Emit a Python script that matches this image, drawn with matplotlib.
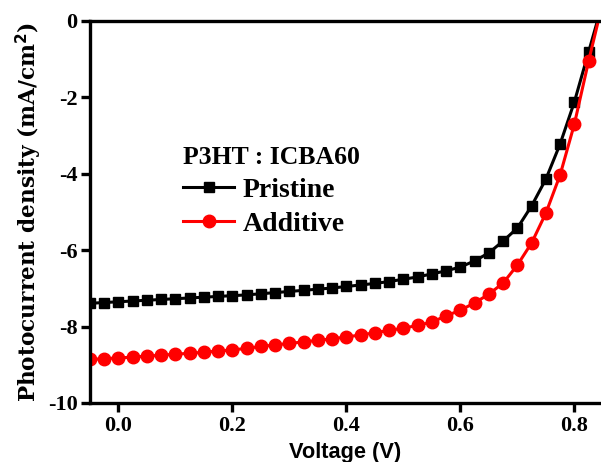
import matplotlib
matplotlib.use('Agg')
import matplotlib.pyplot as plt

plt.rcParams['axes.unicode_minus'] = False

# Voltage sweep (V)
voltage = [-0.05, -0.025, 0.0, 0.025, 0.05, 0.075, 0.1, 0.125, 0.15, 0.175,
           0.2, 0.225, 0.25, 0.275, 0.3, 0.325, 0.35, 0.375, 0.4, 0.425,
           0.45, 0.475, 0.5, 0.525, 0.55, 0.575, 0.6, 0.625, 0.65, 0.675,
           0.7, 0.725, 0.75, 0.775, 0.8, 0.825, 0.85]

# Photocurrent density (mA/cm2)
pristine = [-7.39, -7.37, -7.35, -7.33, -7.31, -7.29, -7.27, -7.25, -7.23, -7.21,
            -7.19, -7.17, -7.14, -7.11, -7.08, -7.05, -7.02, -6.99, -6.95, -6.91,
            -6.87, -6.82, -6.76, -6.70, -6.62, -6.54, -6.44, -6.28, -6.07, -5.76,
            -5.42, -4.84, -4.14, -3.22, -2.12, -0.81, 0.5]
additive = [-8.86, -8.84, -8.82, -8.80, -8.77, -8.75, -8.72, -8.70, -8.67, -8.64,
            -8.61, -8.57, -8.52, -8.48, -8.44, -8.40, -8.36, -8.32, -8.27, -8.22,
            -8.16, -8.10, -8.04, -7.97, -7.88, -7.72, -7.57, -7.38, -7.15, -6.86,
            -6.39, -5.81, -5.03, -4.03, -2.70, -1.05, 0.5]

xticks = [0.0, 0.2, 0.4, 0.6, 0.8]
yticks = [0, -2, -4, -6, -8, -10]

serif = 'Liberation Serif'

fig = plt.figure(figsize=(6.01, 4.62), dpi=100)
ax = fig.add_axes([90 / 601, 59 / 462, 510 / 601, 382 / 462])

ax.plot(voltage, pristine, color='black', lw=2.2, marker='s', ms=7,
        label='Pristine')
ax.plot(voltage, additive, color='red', lw=2.2, marker='o', ms=9,
        label='Additive')

ax.set_xlim(-0.05, 0.845)
ax.set_ylim(-10, 0)
ax.set_xticks(xticks)
ax.set_xticklabels(['%.1f' % v for v in xticks])
ax.set_yticks(yticks)
ax.set_yticklabels([str(v) for v in yticks])

for s in ['left', 'bottom', 'top']:
    ax.spines[s].set_linewidth(2.4)
ax.spines['right'].set_visible(False)
ax.tick_params(axis='both', direction='out', length=6.5, width=2.4, labelsize=16)
ax.tick_params(axis='x', top=False, pad=3)
ax.tick_params(axis='y', pad=2.5)
for lab in ax.get_xticklabels() + ax.get_yticklabels():
    lab.set_fontfamily(serif)
    lab.set_fontweight('bold')

ax.set_xlabel('Voltage (V)', fontsize=15.7, fontweight='bold',
              fontfamily='Liberation Sans', labelpad=4)
ax.set_ylabel('Photocurrent density (mA/cm$^\\mathbf{2}$)', fontsize=15.6,
              fontweight='bold', fontfamily='DejaVu Serif', labelpad=3)

leg = ax.legend(title='P3HT : ICBA60', loc='upper left',
                bbox_to_anchor=(0.182, 0.672), frameon=False,
                prop={'family': serif, 'weight': 'bold', 'size': 20},
                title_fontproperties={'family': serif, 'weight': 'bold', 'size': 18.5},
                handlelength=1.85, handletextpad=0.3, labelspacing=0.3,
                borderaxespad=0, borderpad=0)
leg._legend_box.align = 'left'

fig.savefig('out.png', dpi=100)
